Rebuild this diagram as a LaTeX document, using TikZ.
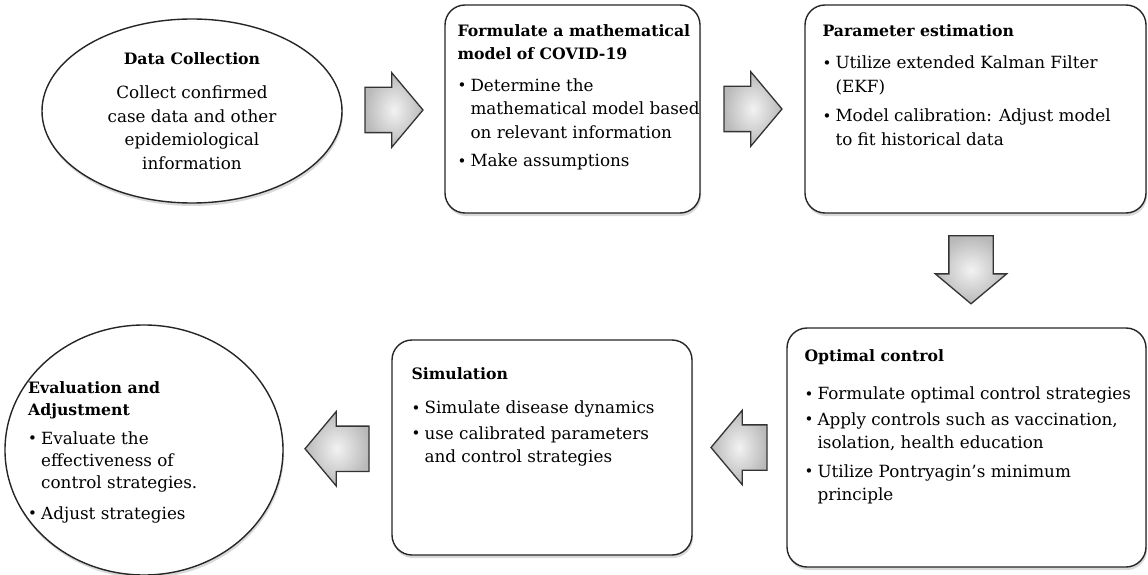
\documentclass[tikz,border=0pt]{standalone}
\usepackage{fontspec}
\setmainfont{DejaVu Serif}
\usetikzlibrary{shapes.geometric,shapes.arrows,shadows,calc}

\newcommand{\bul}{\makebox[13pt][l]{\raisebox{0.5pt}{\fontsize{15}{15}\selectfont\textbullet}}}
\newcommand{\ind}{\hspace*{13pt}}
\newcommand{\ttl}[1]{{\fontsize{15.7}{23.5}\selectfont\bfseries #1}}

\tikzset{
    stepbox/.style={draw=black!85, line width=1.4pt, rounded corners=20pt, fill=white, inner sep=0pt,
        drop shadow={shadow xshift=1pt, shadow yshift=-3pt, opacity=0.3}},
    stepoval/.style={ellipse, draw=black!85, line width=1.4pt, fill=white, inner sep=0pt,
        drop shadow={shadow xshift=1pt, shadow yshift=-3pt, opacity=0.3}},
    body/.style={inner sep=0pt, font=\fontsize{16.8}{23.5}\selectfont},
    blockarrow/.style={single arrow, draw=black!80, line width=1.3pt, inner sep=0pt,
        single arrow head extend=14.5pt, single arrow tip angle=100,
        shading=radial, inner color=gray!10, outer color=gray!55},
    harrow/.style={blockarrow, text height=22pt, text depth=22pt},
    varrow/.style={blockarrow, text width=43pt, single arrow head extend=13.5pt, shape border rotate=270}
}

\begin{document}
\begin{tikzpicture}[x=1pt, y=-1pt]
    \useasboundingbox (0,0) rectangle (1148,575);

    % steps
    \node[stepoval, minimum width=300pt, minimum height=184pt] (data) at (192,111) {};
    \node[stepbox, minimum width=255pt, minimum height=208pt] (form) at (572.5,109) {};
    \node[stepbox, minimum width=341pt, minimum height=208pt] (param) at (975.5,109) {};
    \node[stepbox, minimum width=359pt, minimum height=239pt] (optc) at (966.5,447.5) {};
    \node[stepbox, minimum width=300pt, minimum height=215pt] (sim) at (542,447.5) {};
    \node[stepoval, minimum width=278pt, minimum height=250pt] (eval) at (144,450) {};

    % texts
    \node[body, align=center] (data-t) at (data) {%
        \ttl{Data Collection}\\[11pt]
        Collect confirmed\\ case data and other\\ epidemiological\\ information};

    \node[body, align=left, anchor=north west] (form-t) at ([shift={(13,20)}]form.north west) {%
        \ttl{Formulate a mathematical}\\ \ttl{model of COVID-19}\\[8pt]
        \bul Determine the\\ \ind mathematical model based\\ \ind on relevant information\\[5pt]
        \bul Make assumptions};

    \node[body, align=left, anchor=north west] (param-t) at ([shift={(18,20)}]param.north west) {%
        \ttl{Parameter estimation}\\[9pt]
        \bul Utilize extended Kalman Filter\\ \ind (EKF)\\[6pt]
        \bul Model calibration: Adjust model\\ \ind to fit historical data};

    \node[body, align=left, anchor=north west] (optc-t) at ([shift={(18,22)}]optc.north west) {%
        \ttl{Optimal control}\\[15pt]
        \bul Formulate optimal control strategies\\[2pt]
        \bul Apply controls such as vaccination,\\ \ind isolation, health education\\[5pt]
        \bul Utilize Pontryagin's minimum\\ \ind principle};

    \node[body, align=left, anchor=north west] (sim-t) at ([shift={(20,28)}]sim.north west) {%
        \ttl{Simulation}\\[11pt]
        \bul Simulate disease dynamics\\[2pt]
        \bul use calibrated parameters\\ \ind and control strategies};

    \node[body, align=left, anchor=north west, font=\fontsize{16.8}{22}\selectfont] (eval-t)
        at ([shift={(-116,-69)}]eval.center) {%
        \ttl{Evaluation and}\\ \ttl{Adjustment}\\[7pt]
        \bul Evaluate the\\ \ind effectiveness of\\ \ind control strategies.\\[9pt]
        \bul Adjust strategies};

    % arrows
    \node[harrow, minimum height=58pt, xshift=-9pt] (a1) at ($(data.east)!0.5!(form.west)$) {};
    \node[harrow, minimum height=58pt, xshift=-9pt] (a2) at ($(form.east)!0.5!(param.west)$) {};
    \node[varrow, minimum height=68pt, yshift=10pt] (a3) at ($(param.south)!0.5!(optc.north)$) {};
    \node[harrow, minimum height=56pt, xshift=9pt, shape border rotate=180] (a4) at ($(optc.west)!0.5!(sim.east)$) {};
    \node[harrow, minimum height=64pt, xshift=9pt, shape border rotate=180] (a5) at ($(sim.west)!0.5!(eval.east)$) {};
\end{tikzpicture}
\end{document}
